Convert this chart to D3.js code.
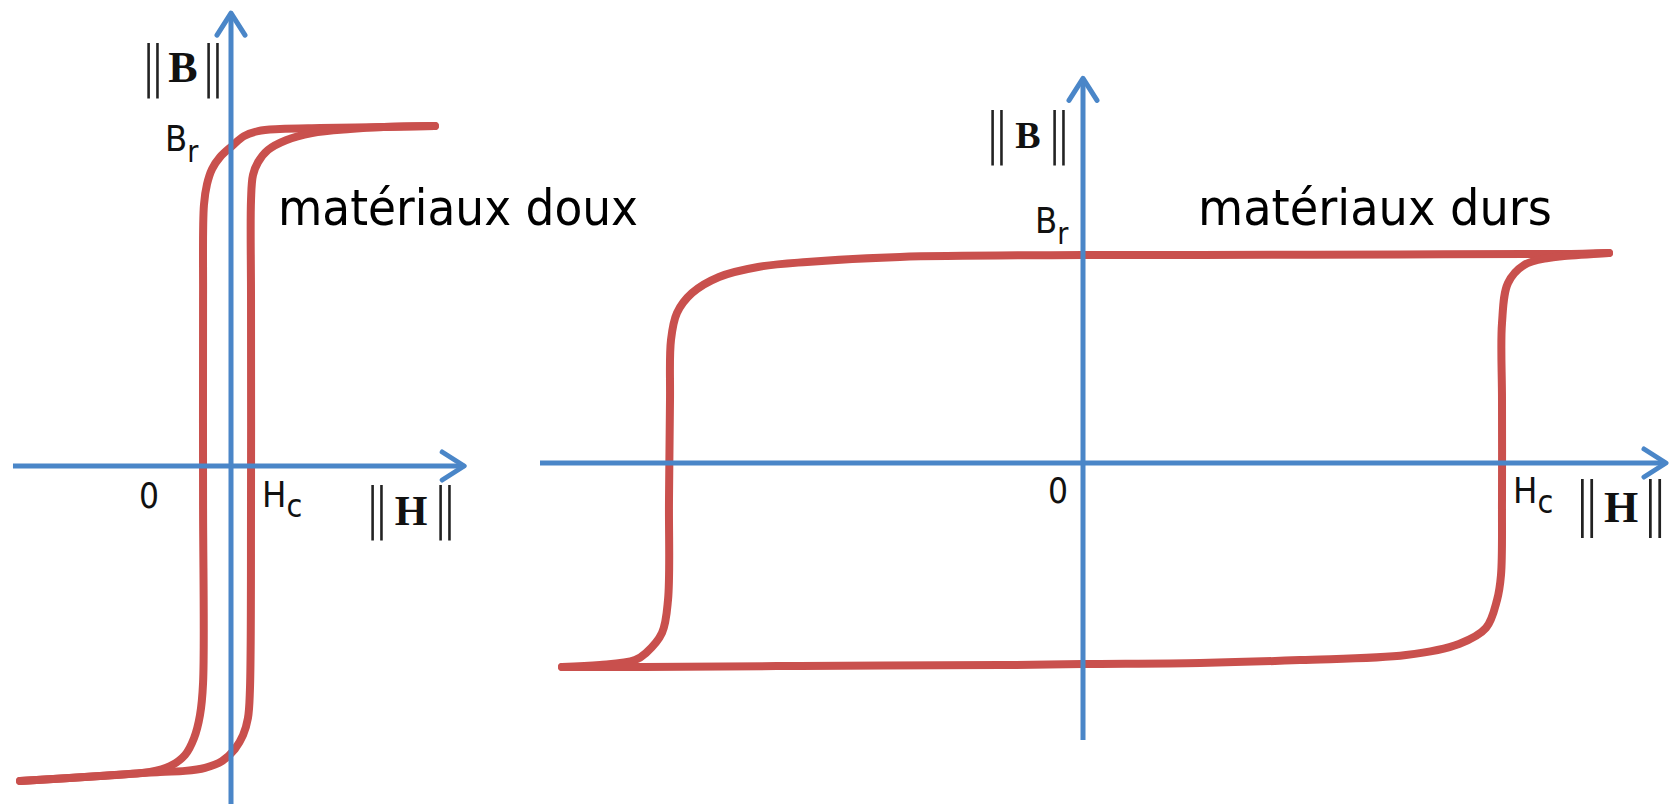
<!DOCTYPE html>
<html>
<head>
<meta charset="utf-8">
<script src="https://cdn.jsdelivr.net/npm/d3@7"></script>
<style>
  html, body { margin: 0; padding: 0; background: #fff; }
  svg { display: block; }
</style>
</head>
<body>
<div id="chart"></div>
<script>
// Hysteresis loops: soft vs hard magnetic materials
// values are [H, B] in normalised units (B = 1 at the top plateau)

// soft material, descending branch (saturation top -> bottom)
const softDescending = [
  [0.927, 1.006], [0.695, 1.003], [0.405, 1.0], [0.223, 0.997], [0.123, 0.991],
  [0.059, 0.976], [0.005, 0.947], [-0.05, 0.914], [-0.086, 0.879], [-0.109, 0.834],
  [-0.123, 0.772], [-0.127, 0.491], [-0.127, -0.101], [-0.127, -0.642], [-0.141, -0.737],
  [-0.168, -0.805], [-0.209, -0.855], [-0.277, -0.888], [-0.368, -0.905], [-0.595, -0.917],
  [-0.959, -0.932]
];
// soft material, ascending branch (bottom -> saturation top)
const softAscending = [
  [-0.959, -0.932], [-0.595, -0.917], [-0.323, -0.905], [-0.209, -0.902], [-0.118, -0.893],
  [-0.041, -0.873], [0.018, -0.837], [0.055, -0.796], [0.077, -0.746], [0.086, -0.663],
  [0.091, -0.101], [0.091, 0.491], [0.091, 0.787], [0.1, 0.861], [0.123, 0.899],
  [0.168, 0.935], [0.25, 0.964], [0.368, 0.985], [0.541, 0.997], [0.695, 1.003],
  [0.927, 1.006]
];

// hard material, descending branch
const hardDescending = [
  [1.052, 1.005], [0.954, 1.0], [0.634, 0.998], [0.234, 0.995], [0, 0.995],
  [-0.366, 0.986], [-0.552, 0.962], [-0.65, 0.938], [-0.728, 0.89], [-0.782, 0.813],
  [-0.812, 0.718], [-0.824, 0.589], [-0.826, 0.301], [-0.828, -0.177], [-0.83, -0.656],
  [-0.842, -0.813], [-0.874, -0.909], [-0.896, -0.943], [-0.966, -0.967], [-1.042, -0.976]
];
// hard material, ascending branch
const hardAscending = [
  [-1.042, -0.976], [-0.88, -0.976], [-0.566, -0.971], [-0.166, -0.967], [0, -0.962],
  [0.234, -0.957], [0.434, -0.943], [0.646, -0.919], [0.752, -0.866], [0.806, -0.789],
  [0.828, -0.656], [0.836, -0.536], [0.838, -0.177], [0.838, 0.301], [0.838, 0.67],
  [0.85, 0.861], [0.882, 0.947], [0.93, 0.981], [0.962, 0.99], [1.052, 1.005]
];

// remanence / coercive field marks on each graph
const softMarks = { Br: 0.947, Hc: 0.091 };
const hardMarks = { Br: 0.995, Hc: 0.838 };

const titles = ['matériaux doux', 'matériaux durs'];

let svgwidth = 1670;
let svgheight = 804;
let red = '#c9504d';
let blue = '#4a86c8';
let sans = '"DejaVu Sans Condensed", "DejaVu Sans", sans-serif';
let serif = '"Liberation Serif", "DejaVu Serif", serif';

let svg = d3
  .select('#chart')
  .append('svg')
  .attr('width', svgwidth)
  .attr('height', svgheight)
  .attr('viewBox', `0 0 ${svgwidth} ${svgheight}`);

// open chevron arrow head for the axes
svg
  .append('defs')
  .append('marker')
  .attr('id', 'arrow')
  .attr('markerUnits', 'userSpaceOnUse')
  .attr('viewBox', '-30 -20 36 40')
  .attr('markerWidth', 36)
  .attr('markerHeight', 40)
  .attr('refX', 0)
  .attr('refY', 0)
  .attr('orient', 'auto')
  .append('path')
  .attr('d', 'M-22,-14 L0,0 L-22,14')
  .attr('fill', 'none')
  .attr('stroke', blue)
  .attr('stroke-width', 5)
  .attr('stroke-linecap', 'round')
  .attr('stroke-linejoin', 'round');

// one hysteresis graph
function drawLoop(opt) {
  let g = svg.append('g');
  let x = opt.x;
  let y = opt.y;

  let line = d3
    .line()
    .x((d) => x(d[0]))
    .y((d) => y(d[1]))
    .curve(d3.curveCatmullRom.alpha(0.5));

  g.selectAll('path.loop')
    .data(opt.branches)
    .join('path')
    .attr('class', 'loop')
    .attr('d', line)
    .attr('fill', 'none')
    .attr('stroke', red)
    .attr('stroke-width', 8)
    .attr('stroke-linecap', 'round')
    .attr('stroke-linejoin', 'round');

  // H axis
  g.append('line')
    .attr('x1', x(opt.hAxis[0]))
    .attr('x2', x(opt.hAxis[1]))
    .attr('y1', y(0))
    .attr('y2', y(0))
    .attr('stroke', blue)
    .attr('stroke-width', 5)
    .attr('marker-end', 'url(#arrow)');

  // B axis
  g.append('line')
    .attr('x1', x(0))
    .attr('x2', x(0))
    .attr('y1', y(opt.bAxis[0]))
    .attr('y2', y(opt.bAxis[1]))
    .attr('stroke', blue)
    .attr('stroke-width', 5)
    .attr('marker-end', 'url(#arrow)');

  // "0" at the origin
  g.append('text')
    .text('0')
    .attr('x', x(0) + opt.zero[0])
    .attr('y', y(0) + opt.zero[1])
    .attr('text-anchor', 'middle')
    .attr('font-family', sans)
    .attr('font-size', 35)
    .attr('fill', '#111');

  // B_r
  let br = g
    .append('text')
    .attr('x', x(0) + opt.br[0])
    .attr('y', y(opt.marks.Br) + opt.br[1])
    .attr('font-family', sans)
    .attr('font-size', 36)
    .attr('fill', '#111');
  br.append('tspan').text('B');
  br.append('tspan').text('r').attr('font-size', 30).attr('dy', 11);

  // H_c
  let hc = g
    .append('text')
    .attr('x', x(opt.marks.Hc) + opt.hc[0])
    .attr('y', y(0) + opt.hc[1])
    .attr('font-family', sans)
    .attr('font-size', 36)
    .attr('fill', '#111');
  hc.append('tspan').text('H');
  hc.append('tspan').text('c').attr('font-size', 32).attr('dy', 10);

  // ||B|| and ||H|| axis names
  [opt.bName, opt.hName].forEach(function (n) {
    let t = g.append('g').attr('transform', `translate(${n.pos[0]}, ${n.pos[1]})`);
    [-n.gap, n.gap].forEach(function (dx) {
      t.append('text')
        .text('‖')
        .attr('x', dx)
        .attr('y', n.barDy)
        .attr('text-anchor', 'middle')
        .attr('font-family', '"DejaVu Sans", sans-serif')
        .attr('font-weight', 200)
        .attr('font-size', n.barSize)
        .attr('fill', '#222');
    });
    t.append('text')
      .text(n.letter)
      .attr('text-anchor', 'middle')
      .attr('font-family', serif)
      .attr('font-weight', 'bold')
      .attr('font-size', n.size)
      .attr('fill', '#111');
  });

  // material label
  g.append('text')
    .text(opt.title)
    .attr('x', opt.titlePos[0])
    .attr('y', opt.titlePos[1])
    .attr('font-family', sans)
    .attr('font-size', 50)
    .attr('textLength', opt.titleLen)
    .attr('lengthAdjust', 'spacingAndGlyphs')
    .attr('fill', '#000');
}

// soft material, left
drawLoop({
  x: d3.scaleLinear().domain([-1, 1]).range([11, 451]),
  y: d3.scaleLinear().domain([-1, 1]).range([804, 128]),
  branches: [softDescending, softAscending],
  marks: softMarks,
  hAxis: [-0.991, 1.06],
  bAxis: [-1.0, 1.34],
  zero: [-82, 42],
  br: [-66, 5],
  hc: [11, 41],
  bName: { letter: 'B', pos: [183, 82], gap: 30, barDy: 3, barSize: 55, size: 44 },
  hName: { letter: 'H', pos: [411, 525], gap: 34, barDy: 2, barSize: 55, size: 42 },
  title: titles[0],
  titlePos: [278, 225],
  titleLen: 360
});

// hard material, right
drawLoop({
  x: d3.scaleLinear().domain([-1, 1]).range([583, 1583]),
  y: d3.scaleLinear().domain([-1, 1]).range([672, 254]),
  branches: [hardDescending, hardAscending],
  marks: hardMarks,
  hAxis: [-1.086, 1.166],
  bAxis: [-1.325, 1.84],
  zero: [-25, 40],
  br: [-48, -22],
  hc: [11, 40],
  bName: { letter: 'B', pos: [1028, 148], gap: 31, barDy: 4, barSize: 55, size: 38 },
  hName: { letter: 'H', pos: [1621, 522], gap: 34, barDy: 2, barSize: 58, size: 44 },
  title: titles[1],
  titlePos: [1198, 225],
  titleLen: 354
});
</script>
</body>
</html>
